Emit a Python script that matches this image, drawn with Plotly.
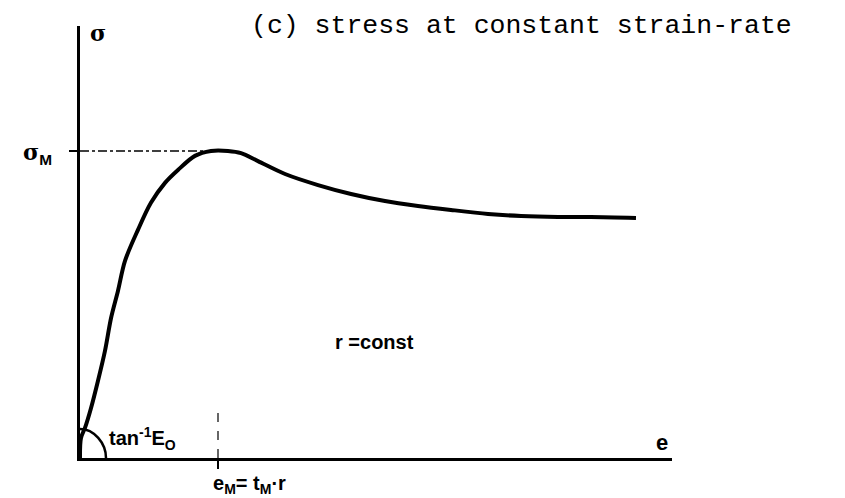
import plotly.graph_objects as go

# stress-strain curve at constant strain-rate (normalized: e_M = 1, sigma_M = 1)
strain = [0.0, 0.007, 0.036, 0.080, 0.130, 0.181, 0.225, 0.275, 0.326, 0.420, 0.514,
          0.616, 0.710, 0.833, 0.949, 1.072, 1.167, 1.290, 1.486, 1.725, 1.964, 2.210,
          2.449, 2.688, 2.957, 3.196, 3.464, 3.703, 4.029]
stress = [0.0, 0.065, 0.098, 0.163, 0.251, 0.349, 0.456, 0.544, 0.642, 0.743, 0.831,
          0.896, 0.938, 0.984, 1.0, 1.0, 0.993, 0.967, 0.925, 0.889, 0.860, 0.837,
          0.821, 0.808, 0.795, 0.788, 0.785, 0.785, 0.782]
e_M = 1.0
sigma_M = 1.0

X_MAX = 4.29
Y_MAX = 1.407

fig = go.Figure()
fig.add_trace(go.Scatter(x=strain, y=stress, mode="lines",
                         line=dict(color="black", width=4, shape="spline", smoothing=0.9),
                         hoverinfo="skip", showlegend=False))

# dash-dot guide to sigma_M
fig.add_trace(go.Scatter(x=[0, 0.9], y=[sigma_M, sigma_M], mode="lines",
                         line=dict(color="black", width=1.5, dash="dashdot"),
                         hoverinfo="skip", showlegend=False))
# dashed guide at e_M
fig.add_trace(go.Scatter(x=[e_M, e_M], y=[0, 0.17], mode="lines",
                         line=dict(color="black", width=1.2, dash="dash"),
                         hoverinfo="skip", showlegend=False))

# angle arc at the origin
fig.add_shape(type="path", xref="x", yref="y", xsizemode="pixel", ysizemode="pixel",
              xanchor=0, yanchor=0,
              path="M 0,29 C 14,29 26,15 26,0",
              line=dict(color="black", width=2.5))

fig.update_xaxes(range=[0, X_MAX], showline=True, linecolor="black", linewidth=2.5,
                 showgrid=False, zeroline=False, tickvals=[e_M], ticktext=[""],
                 ticks="outside", ticklen=8, tickwidth=2, tickcolor="black",
                 fixedrange=True)
fig.update_yaxes(range=[0, Y_MAX], showline=True, linecolor="black", linewidth=2.5,
                 showgrid=False, zeroline=False, tickvals=[sigma_M], ticktext=[""],
                 ticks="outside", ticklen=8, tickwidth=2, tickcolor="black",
                 fixedrange=True)

lab = dict(family="Liberation Sans, Arial, sans-serif", size=20, color="black")
sig = dict(family="DejaVu Serif, serif", size=22, color="black")
ann = [
    dict(x=0.030, y=0.984, text="<b>σ</b>", xanchor="center", yanchor="middle", font=sig),
    dict(x=-0.071, y=0.704,
         text="<b>σ<sub><span style='font-family:Liberation Sans'>M</span></sub></b>",
         xanchor="center", yanchor="middle", font=sig),
    dict(x=0.045, y=0.046, text="<b>tan<sup>-1</sup>E<sub>O</sub></b>", xanchor="left",
         yanchor="middle", font=lab),
    dict(x=0.983, y=0.035, text="<b>e</b>", xanchor="center", yanchor="middle",
         font=dict(family="Liberation Sans, Arial, sans-serif", size=22, color="black")),
    dict(x=0.222, y=-0.062, text="<b>e<sub>M</sub>= t<sub>M</sub>·r</b>", xanchor="left",
         yanchor="middle", font=lab),
    dict(x=0.498, y=0.2685, text="<b>r =const</b>", xanchor="center", yanchor="middle",
         font=lab),
    dict(x=0.286, y=1.0, text="(c) stress at constant strain-rate", xanchor="left",
         yanchor="middle",
         font=dict(family="Liberation Mono, Courier New, monospace", size=26.5, color="black")),
]
for a in ann:
    a.update(xref="paper", yref="paper", showarrow=False)
fig.update_layout(annotations=ann)

fig.update_layout(width=845, height=498, margin=dict(l=72, r=181, t=18, b=48),
                  plot_bgcolor="white", paper_bgcolor="white")

fig.write_html("out.html")
